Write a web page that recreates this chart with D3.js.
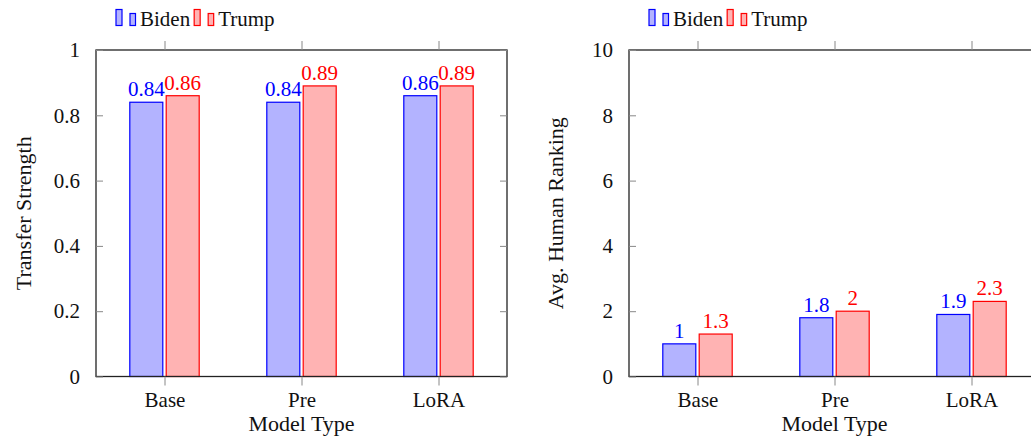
<!DOCTYPE html>
<html><head><meta charset="utf-8">
<script src="https://cdn.jsdelivr.net/npm/d3@7"></script>
<style>
html,body{margin:0;padding:0;background:#fff;overflow:hidden}
svg{display:block}
text{font-family:"Liberation Serif","DejaVu Serif",serif}
</style></head>
<body>
<svg id="c" width="1031" height="436"></svg>
<script>
const categories = ["Base", "Pre", "LoRA"];
const seriesNames = ["Biden", "Trump"];
const transferBiden = [0.84, 0.84, 0.86];
const transferTrump = [0.86, 0.89, 0.89];
const rankingBiden = [1, 1.8, 1.9];
const rankingTrump = [1.3, 2, 2.3];
const transferTicks = [0, 0.2, 0.4, 0.6, 0.8, 1];
const rankingTicks = [0, 2, 4, 6, 8, 10];

const colors = {Biden:{fill:"#b3b3ff", stroke:"#0000ff", text:"#0000ff"},
                Trump:{fill:"#ffb3b3", stroke:"#ff0000", text:"#ff0000"}};

const svg = d3.select("#c");
const FS = 21, LFS = 22;

function panel(x0, x1, yTop, yBot, yDomain, ticks, fmt, seriesVals, ylabel, ylabelX) {
  const g = svg.append("g");
  const x = d3.scalePoint().domain(categories).range([x0, x1]).padding(0.5);
  const y = d3.scaleLinear().domain(yDomain).range([yBot, yTop]);
  const barW = 33, off = 18.2;

  // bars
  seriesNames.forEach((s, si) => {
    const vals = seriesVals[si];
    const dx = si === 0 ? -off : off;
    g.selectAll(null).data(categories).enter().append("rect")
      .attr("x", c => x(c) + dx - barW/2)
      .attr("y", (c, i) => y(vals[i]))
      .attr("width", barW)
      .attr("height", (c, i) => y(0) - y(vals[i]))
      .attr("fill", colors[s].fill)
      .attr("stroke", colors[s].stroke)
      .attr("stroke-width", 1.2);
    g.selectAll(null).data(categories).enter().append("text")
      .attr("x", c => x(c) + dx)
      .attr("y", (c, i) => y(vals[i]) - 6)
      .attr("text-anchor", "middle")
      .attr("font-size", FS)
      .attr("fill", colors[s].text)
      .text((c, i) => fmt(vals[i]));
  });

  // frame
  g.append("rect").attr("x", x0).attr("y", yTop).attr("width", x1 - x0).attr("height", yBot - yTop)
    .attr("fill", "none").attr("stroke", "#222").attr("stroke-width", 1.3);

  // y axis (ticks inward)
  const yAx = d3.axisLeft(y).tickValues(ticks).tickFormat(fmt).tickSizeInner(-7).tickSizeOuter(0).tickPadding(16);
  const ya = g.append("g").attr("transform", `translate(${x0},0)`).call(yAx);
  ya.select(".domain").remove();
  ya.selectAll(".tick line").attr("stroke", "#888");
  ya.selectAll(".tick text").attr("font-size", FS).attr("fill", "#111").attr("font-family", "Liberation Serif");
  const yAxR = d3.axisRight(y).tickValues(ticks).tickFormat("").tickSizeInner(-7).tickSizeOuter(0);
  const yr = g.append("g").attr("transform", `translate(${x1},0)`).call(yAxR);
  yr.select(".domain").remove();
  yr.selectAll(".tick line").attr("stroke", "#888");

  // x axis
  const xAx = d3.axisBottom(x).tickSizeInner(9).tickSizeOuter(0).tickPadding(7);
  const xa = g.append("g").attr("transform", `translate(0,${yBot})`).call(xAx);
  xa.select(".domain").remove();
  xa.selectAll(".tick line").attr("stroke", "#888");
  xa.selectAll(".tick text").attr("font-size", FS).attr("fill", "#111").attr("font-family", "Liberation Serif");
  const xAxT = d3.axisTop(x).tickSizeInner(9).tickSizeOuter(0).tickFormat("");
  const xt = g.append("g").attr("transform", `translate(0,${yTop})`).call(xAxT);
  xt.select(".domain").remove();
  xt.selectAll(".tick line").attr("stroke", "#888");

  // labels
  g.append("text").attr("x", (x0 + x1) / 2).attr("y", 431).attr("text-anchor", "middle")
    .attr("font-size", LFS).attr("fill", "#111").text("Model Type");
  g.append("text").attr("transform", `translate(${ylabelX},${(yTop + yBot) / 2}) rotate(-90)`)
    .attr("text-anchor", "middle").attr("font-size", LFS).attr("fill", "#111").text(ylabel);

  // legend
  const lg = g.append("g").attr("transform", `translate(${x0 + 20},0)`);
  let lx = 0;
  seriesNames.forEach(s => {
    lg.append("rect").attr("x", lx).attr("y", 9.5).attr("width", 6).attr("height", 16)
      .attr("fill", colors[s].fill).attr("stroke", colors[s].stroke).attr("stroke-width", 1.2);
    lg.append("rect").attr("x", lx + 14).attr("y", 13.5).attr("width", 5.5).attr("height", 12)
      .attr("fill", colors[s].fill).attr("stroke", colors[s].stroke).attr("stroke-width", 1.2);
    const t = lg.append("text").attr("x", lx + 24).attr("y", 26).attr("font-size", FS).attr("fill", "#111").text(s);
    lx += 24 + t.node().getComputedTextLength() + 4;
  });
}

const fmt = d => d3.format("~g")(d);
panel(96, 507, 50, 376.5, [0, 1], transferTicks, fmt, [transferBiden, transferTrump], "Transfer Strength", 31);
panel(629, 1040, 50, 376.5, [0, 10], rankingTicks, fmt, [rankingBiden, rankingTrump], "Avg. Human Ranking", 563);
</script>
</body></html>
